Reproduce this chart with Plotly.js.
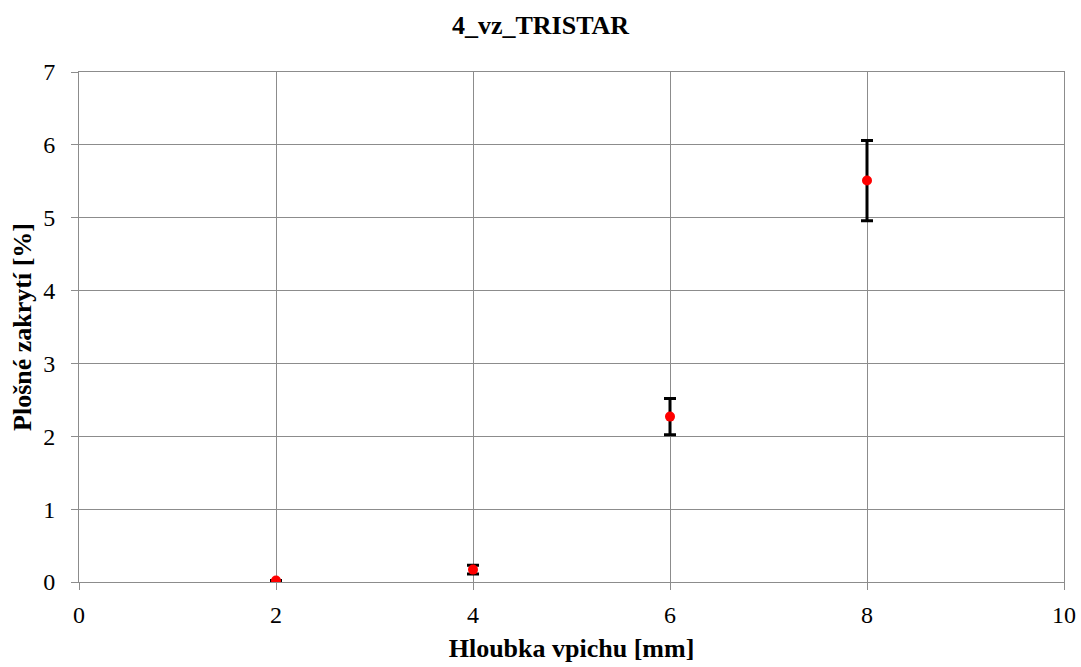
<!DOCTYPE html>
<html><head><meta charset="utf-8">
<script src="https://cdn.plot.ly/plotly-3.0.1.min.js"></script>
<style>body{margin:0;background:#fff}#c{width:1081px;height:667px}</style>
</head><body><div id="c"></div>
<script>
const depth = [2, 4, 6, 8];
const coverage = [0.02, 0.17, 2.27, 5.51];
const errors = [0, 0.06, 0.25, 0.55];
const xTicks = [0, 2, 4, 6, 8, 10];
const yTicks = [0, 1, 2, 3, 4, 5, 6, 7];

const font = 'Liberation Serif';
Plotly.newPlot('c', [{
  x: depth, y: coverage, type: 'scatter', mode: 'markers',
  marker: {color: '#ff0000', size: 10},
  error_y: {type: 'data', array: errors, visible: true, color: '#000', thickness: 3, width: 6},
  showlegend: false
}], {
  width: 1081, height: 667,
  margin: {l: 79, r: 17, t: 72, b: 85},
  paper_bgcolor: '#fff', plot_bgcolor: '#fff',
  title: {text: '<b>4_vz_TRISTAR</b>', x: 0.5, xanchor: 'center', y: 1, yanchor: 'top', pad: {t: 16},
          font: {family: font, size: 26, color: '#000'}},
  xaxis: {range: [0, 10], tickvals: xTicks, ticktext: xTicks.map(String),
          showgrid: true, gridcolor: '#8c8c8c', gridwidth: 1,
          showline: true, linecolor: '#8c8c8c', mirror: true, zeroline: false,
          ticks: 'outside', ticklen: 7, tickcolor: '#8c8c8c', ticklabelstandoff: 4,
          tickfont: {family: font, size: 24, color: '#000'},
          title: {text: '<b>Hloubka vpichu [mm]</b>', font: {family: font, size: 26, color: '#000'}, standoff: 12}},
  yaxis: {range: [0, 7], tickvals: yTicks, ticktext: yTicks.map(String),
          showgrid: true, gridcolor: '#8c8c8c', gridwidth: 1,
          showline: true, linecolor: '#8c8c8c', mirror: true, zeroline: false,
          ticks: 'outside', ticklen: 7, tickcolor: '#8c8c8c', ticklabelstandoff: 11,
          tickfont: {family: font, size: 24, color: '#000'},
          title: {text: '<b>Plošné zakrytí [%]</b>', font: {family: font, size: 26, color: '#000'}, standoff: 4}}
}, {staticPlot: true});
</script></body></html>
